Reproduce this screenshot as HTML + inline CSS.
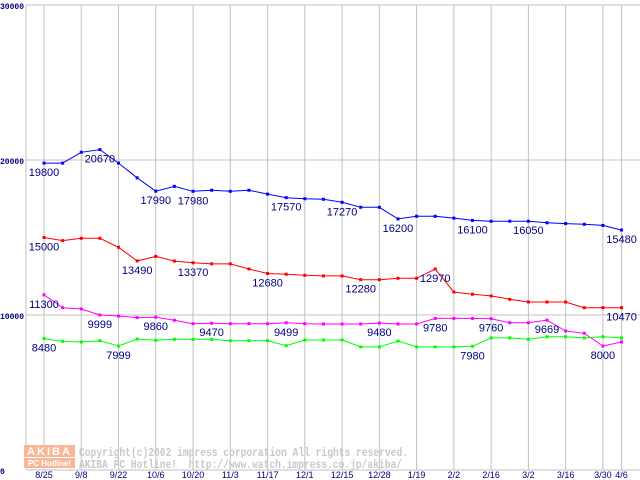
<!DOCTYPE html>
<html><head><meta charset="utf-8"><style>
html,body{margin:0;padding:0;background:#fff;}
svg{display:block;}
</style></head><body>
<svg id="chart" width="640" height="480" xmlns="http://www.w3.org/2000/svg">
<g id="grid"></g>
<g id="wm">
  <rect x="24" y="445" width="51" height="12" fill="#f8b898"/>
  <text x="49.5" y="455" text-anchor="middle" font-family="Liberation Sans, sans-serif" font-weight="bold" font-size="11" fill="#fff" letter-spacing="2">AKIBA</text>
  <rect x="24" y="458" width="51" height="10" fill="#f8b898"/>
  <text x="49.5" y="466" text-anchor="middle" font-family="Liberation Sans, sans-serif" font-weight="bold" font-size="8" fill="#fff">PC Hotline!</text>
  <text x="79" y="456" font-family="Liberation Mono, monospace" font-weight="bold" font-size="12" fill="#c8c8c8" textLength="329" lengthAdjust="spacingAndGlyphs">Copyright(c)2002 impress corporation All rights reserved.</text>
  <text x="79" y="468" font-family="Liberation Mono, monospace" font-weight="bold" font-size="12" fill="#c8c8c8" xml:space="preserve" textLength="323" lengthAdjust="spacingAndGlyphs">AKIBA PC Hotline!  http://www.watch.impress.co.jp/akiba/</text>
</g>
<g id="axes"></g>
<g id="series"></g>
<g id="labels"></g>
</svg>
<script>
const xLabels = ["8/25","9/8","9/22","10/6","10/20","11/3","11/17","12/1","12/15","12/28","1/19","2/2","2/16","3/2","3/16","3/30","4/6"];
const yTicks = [0,10000,20000,30000];
const blueValues = [19800,19800,20500,20670,19800,18850,17990,18300,17980,18050,17980,18050,17800,17570,17500,17465,17270,16950,16950,16200,16370,16370,16250,16100,16050,16050,16050,15950,15900,15850,15780,15480];
const redValues = [15000,14800,14950,14950,14370,13490,13780,13480,13370,13300,13300,12970,12680,12630,12560,12520,12520,12280,12280,12370,12370,12970,11480,11340,11230,11010,10840,10840,10840,10470,10470,10470];
const magentaValues = [11300,10470,10390,9999,9935,9830,9860,9660,9440,9470,9440,9440,9440,9499,9440,9420,9420,9420,9480,9420,9420,9780,9780,9780,9760,9500,9500,9669,8970,8820,8000,8260];
const greenValues = [8480,8300,8260,8340,7999,8450,8370,8430,8430,8430,8340,8340,8340,8020,8390,8390,8390,7940,7940,8320,7940,7940,7940,7980,8520,8520,8430,8600,8600,8520,8600,8520];
const blueLabels = [0,3,6,8,13,16,19,23,26,31];
const redLabels = [0,5,8,12,17,21,31];
const magentaLabels = [0,3,6,9,13,18,21,24,27,30];
const greenLabels = [0,4,23];

const NS="http://www.w3.org/2000/svg";
const x0=44, step=18.63;
function xs(i){return x0+i*step;}
function ys(v){return 470-v*0.0155;}
function mk(tag,attrs,parent){const e=document.createElementNS(NS,tag);for(const k in attrs)e.setAttribute(k,attrs[k]);parent.appendChild(e);return e;}
const grid=document.getElementById('grid'), axes=document.getElementById('axes'), ser=document.getElementById('series'), lab=document.getElementById('labels');
yTicks.forEach(v=>{
  const l=mk('line',{x1:26,x2:640,y1:ys(v),y2:ys(v),stroke:'#c0c0c0','stroke-width':1},grid);
  
  
  const t=mk('text',{x:0,y:ys(v)+4,'font-family':'Liberation Mono, monospace','font-weight':'bold','font-size':'8',fill:'#000080'},axes);
  t.textContent=String(v);
  
  
});
const la=mk('line',{x1:26,x2:26,y1:ys(30000),y2:ys(0),stroke:'#c0c0c0'},grid);


xLabels.forEach((s,k)=>{
  const idx = k<xLabels.length-1 ? k*2 : blueValues.length-1;
  const x=xs(idx);
  const l=mk('line',{x1:x,x2:x,y1:ys(30000),y2:ys(0),stroke:'#c0c0c0'},grid);
  
  
  const t=mk('text',{x:x,y:478,'text-anchor':'middle','font-family':'Liberation Sans, sans-serif','font-size':'9',fill:'#000080'},axes);
  t.textContent=s;
  
  
});
function drawSeries(vals,color,name,labIdx){
  const pts=vals.map((v,i)=>xs(i).toFixed(1)+','+ys(v).toFixed(1)).join(' ');
  const pl=mk('polyline',{points:pts,fill:'none',stroke:color,'stroke-width':1},ser);
  
  
  vals.forEach((v,i)=>{
    const r=mk('rect',{x:xs(i)-1.5,y:ys(v)-1.5,width:3,height:3,fill:color},ser);
    
    
  });
  labIdx.forEach(i=>{
    const t=mk('text',{x:xs(i),y:ys(vals[i])+13,'text-anchor':'middle','font-family':'Liberation Sans, sans-serif','font-size':'11',fill:'#000080'},lab);
    t.textContent=String(vals[i]);
    
    
  });
}
drawSeries(blueValues,'#0000ff','blue-series',blueLabels);
drawSeries(redValues,'#ff0000','red-series',redLabels);
drawSeries(magentaValues,'#ff00ff','magenta-series',magentaLabels);
drawSeries(greenValues,'#00ff00','green-series',greenLabels);
</script>
</body></html>
